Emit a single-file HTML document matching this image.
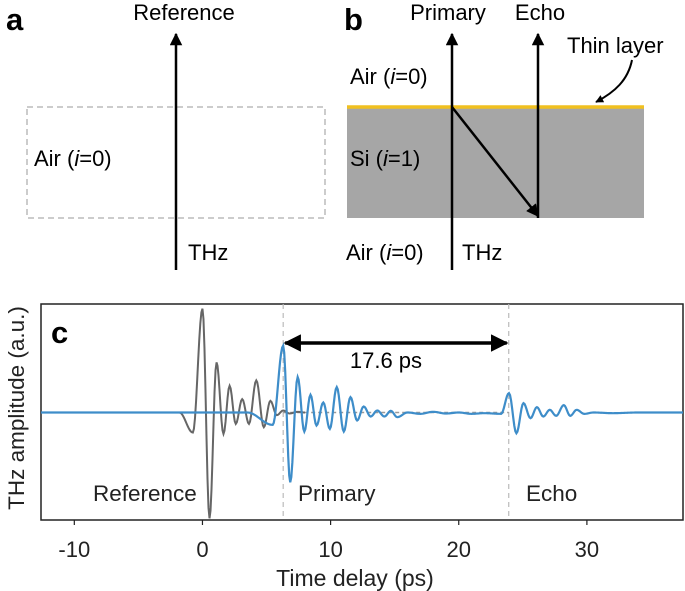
<!DOCTYPE html>
<html><head><meta charset="utf-8">
<style>
body{margin:0;background:#fff;}
svg{display:block;font-family:"Liberation Sans",Arial,sans-serif;}
</style></head>
<body>
<svg id="fig" width="685" height="591" viewBox="0 0 685 591">
<defs>
<marker id="ah" viewBox="0 0 10 10" refX="9" refY="5" markerWidth="5" markerHeight="5" orient="auto-start-reverse"><path d="M0,0 L10,5 L0,10 z" fill="#000"/></marker>
<marker id="ah2" viewBox="0 0 10 10" refX="9" refY="5" markerWidth="4" markerHeight="4" orient="auto-start-reverse"><path d="M0,0 L10,5 L0,10 z" fill="#000"/></marker>
</defs>
<g>
<text x="6" y="30" font-size="31" font-weight="bold">a</text>
<rect x="27" y="107" width="298" height="111" fill="none" stroke="#bbb" stroke-width="1.5" stroke-dasharray="6,4"/>
<line x1="176" y1="270" x2="176" y2="34" stroke="#000" stroke-width="2.5" marker-end="url(#ah)"/>
<text x="184" y="20" font-size="22" text-anchor="middle">Reference</text>
<text x="34" y="166" font-size="22">Air (<tspan font-style="italic">i</tspan>=0)</text>
<text x="188" y="260" font-size="22">THz</text>
</g>
<g>
<text x="344" y="30" font-size="31" font-weight="bold">b</text>
<rect x="347" y="107" width="297" height="111" fill="#a6a6a6"/>
<line x1="347" y1="107" x2="644" y2="107" stroke="#f0c020" stroke-width="3.5"/>
<line x1="452" y1="270" x2="452" y2="34" stroke="#000" stroke-width="2.5" marker-end="url(#ah)"/>
<line x1="538" y1="218" x2="538" y2="34" stroke="#000" stroke-width="2.5" marker-end="url(#ah)"/>
<line x1="452" y1="107" x2="538" y2="216" stroke="#000" stroke-width="2.5" marker-end="url(#ah)"/>
<text x="448" y="20" font-size="22" text-anchor="middle">Primary</text>
<text x="540" y="20" font-size="22" text-anchor="middle">Echo</text>
<text x="567" y="53" font-size="22">Thin layer</text>
<path d="M632,60 C628,80 615,92 596,102" fill="none" stroke="#000" stroke-width="2" marker-end="url(#ah2)"/>
<text x="350" y="84" font-size="22">Air (<tspan font-style="italic">i</tspan>=0)</text>
<text x="350" y="166" font-size="22">Si (<tspan font-style="italic">i</tspan>=1)</text>
<text x="346" y="260" font-size="22">Air (<tspan font-style="italic">i</tspan>=0)</text>
<text x="462" y="260" font-size="22">THz</text>
</g>
<g id="chart"></g>
</svg>
<script>
const refT=[-12.6,-1.8,-0.75,0,0.55,1.1,1.64,2.12,2.6,3.1,3.63,4.2,4.79,5.3,5.8,6.3,6.8,7.4,8.0];
const refA=[0,0,-0.6,3.11,-3.17,1.5,-0.64,0.8,-0.34,0.4,-0.34,0.96,-0.44,0.35,-0.08,0.06,-0.03,0.02,0];
const priT=[-12.6,3.5,5.48,6.3,6.85,7.43,7.95,8.43,8.9,9.43,9.94,10.48,11.03,11.55,12.07,12.58,13.13,13.64,14.2,14.7,15.2,16,17,18,19,20,21,22,23.3,23.92,24.5,25.05,25.6,26.1,26.6,27.1,27.6,28.2,28.7,29.2,29.8,30.5,32,34,37.5];
const priA=[0,0,-0.37,2.0,-2.09,1.06,-0.57,0.53,-0.39,0.3,-0.49,0.76,-0.57,0.46,-0.24,0.18,-0.12,0.06,-0.12,0.05,-0.14,0.0,-0.04,0.02,-0.03,0.0,-0.04,-0.02,-0.04,0.58,-0.62,0.28,-0.17,0.16,-0.12,0.08,-0.1,0.22,-0.1,0.08,-0.04,0,-0.02,0,0];
const xTicks=[-10,0,10,20,30];
const markers=[6.3,23.9];
const delayLabel="17.6 ps";

const L=41,R=683,T=304,B=520,xMin=-12.6,xMax=37.5,yMin=-3.22,yMax=3.25;
const X=t=>L+(t-xMin)/(xMax-xMin)*(R-L);
const Y=a=>T+(yMax-a)/(yMax-yMin)*(B-T);
const NS="http://www.w3.org/2000/svg";
const g=document.getElementById('chart');
function mk(tag,attrs){const e=document.createElementNS(NS,tag);for(const k in attrs)e.setAttribute(k,attrs[k]);g.appendChild(e);return e;}
function curve(ts,as){let d="";for(let i=0;i<ts.length-1;i++){const n=Math.max(2,Math.ceil((ts[i+1]-ts[i])*12));for(let j=0;j<n;j++){const u=j/n;const w=(1-Math.cos(Math.PI*u))/2;const t=ts[i]+(ts[i+1]-ts[i])*u;const a=as[i]+(as[i+1]-as[i])*w;d+=(d?"L":"M")+X(t).toFixed(2)+","+Y(a).toFixed(2);}}d+="L"+X(ts[ts.length-1]).toFixed(2)+","+Y(as[as.length-1]).toFixed(2);return d;}

let e;
e=mk('rect',{x:L,y:T,width:R-L,height:B-T,fill:'none',stroke:'#222','stroke-width':1.5});


xTicks.forEach(v=>{
 e=mk('line',{x1:X(v),x2:X(v),y1:B,y2:B+5,stroke:'#222','stroke-width':1.2});
 
 
 e=mk('text',{x:X(v),y:B+37,'font-size':22,'text-anchor':'middle',fill:'#222'});e.textContent=v;
 
 
});
markers.forEach(v=>{
 e=mk('line',{x1:X(v),x2:X(v),y1:T,y2:B,stroke:'#bbb','stroke-width':1.2,'stroke-dasharray':'5,4'});
 
 
});
e=mk('line',{x1:X(6.3),x2:X(markers[1]),y1:Y(0),y2:Y(0),stroke:'#999','stroke-width':1.5,'stroke-dasharray':'4,3'});


e=mk('path',{d:curve(refT,refA),fill:'none',stroke:'#666','stroke-width':2});


e=mk('path',{d:curve(priT,priA),fill:'none',stroke:'#3e8dc9','stroke-width':2.2});


e=mk('line',{x1:X(markers[0])+2,x2:X(markers[1])-2,y1:343,y2:343,stroke:'#000','stroke-width':3.5,'marker-start':'url(#ah)','marker-end':'url(#ah)'});


e=mk('text',{x:(X(markers[0])+X(markers[1]))/2-10,y:368,'font-size':22,'text-anchor':'middle'});e.textContent=delayLabel;


e=mk('text',{x:51,y:343,'font-size':31,'font-weight':'bold'});e.textContent='c';


[['Reference',93,'reference-label'],['Primary',298,'primary-label'],['Echo',526,'echo-label']].forEach(([s,x,n])=>{
 e=mk('text',{x:x,y:501,'font-size':22.5,fill:'#222'});e.textContent=s;
 
 
});
e=mk('text',{x:355,y:586,'font-size':23,'text-anchor':'middle',fill:'#222'});e.textContent='Time delay (ps)';


e=mk('text',{x:0,y:0,'font-size':22.5,'text-anchor':'middle',fill:'#222',transform:'translate(24,408) rotate(-90)'});e.textContent='THz amplitude  (a.u.)';


</script>
</body></html>
